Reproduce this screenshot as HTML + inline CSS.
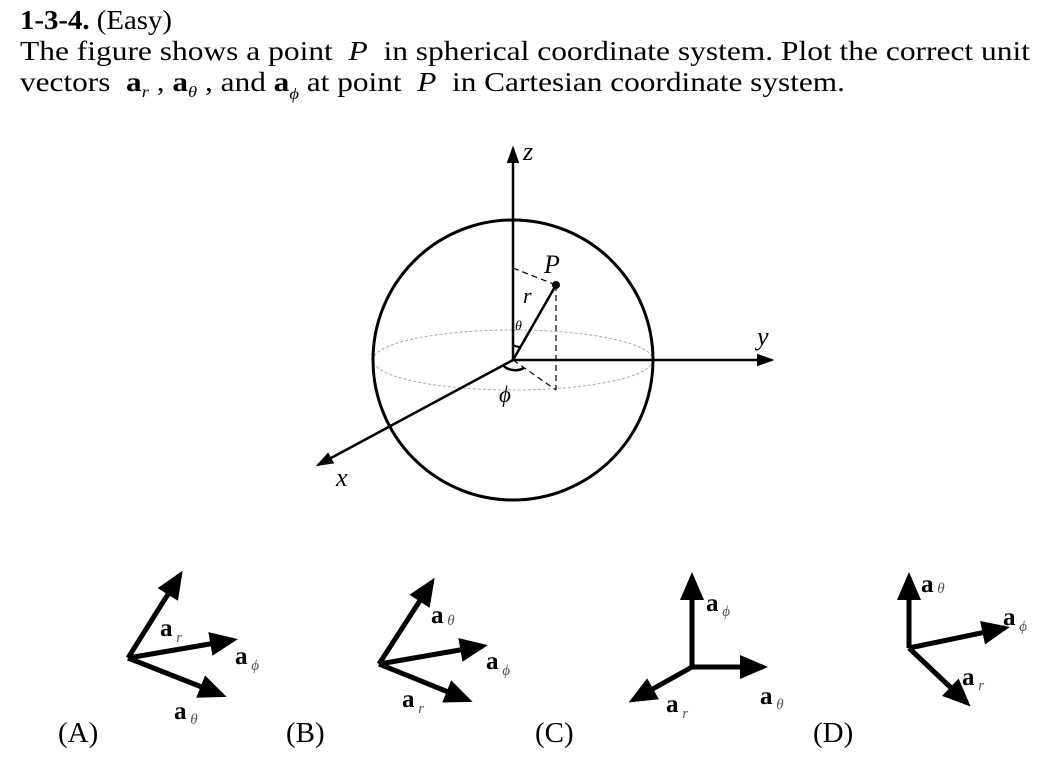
<!DOCTYPE html>
<html><head><meta charset="utf-8"><style>
body{margin:0;background:#fff;width:1060px;height:766px;overflow:hidden}
svg{position:absolute;left:0;top:0}
text{font-family:"Liberation Serif",serif;fill:#000}
</style></head><body>
<svg width="1060" height="766" viewBox="0 0 1060 766">
<defs>
<marker id="m" markerWidth="8" markerHeight="6" refX="6" refY="2.5" orient="auto" markerUnits="strokeWidth"><path d="M0,0L7,2.5L0,5z"/></marker>
<marker id="b" markerWidth="7" markerHeight="6" refX="4.6" refY="2.4" orient="auto" markerUnits="strokeWidth"><path d="M0,0L5.6,2.4L0,4.8z"/></marker>
</defs>
<text x="20" y="29" font-size="27" textLength="152" lengthAdjust="spacingAndGlyphs"><tspan font-weight="bold">1-3-4.</tspan> (Easy)</text>
<text x="20" y="60" font-size="27" textLength="1010" lengthAdjust="spacingAndGlyphs">The figure shows a point <tspan font-style="italic">&#160;P&#160;</tspan> in spherical coordinate system. Plot the correct unit</text>
<text x="20" y="91" font-size="27" textLength="825" lengthAdjust="spacingAndGlyphs">vectors <tspan font-weight="bold">&#160;a</tspan><tspan font-style="italic" font-size="16" dy="6">r</tspan><tspan dy="-6"> ,  </tspan><tspan font-weight="bold">a</tspan><tspan font-style="italic" font-size="16" dy="6">θ</tspan><tspan dy="-6"> , and  </tspan><tspan font-weight="bold">a</tspan><tspan font-style="italic" font-size="16" dy="8">ϕ</tspan><tspan dy="-8"> at point </tspan><tspan font-style="italic">&#160;P&#160;</tspan> in Cartesian coordinate system.</text>

<ellipse cx="513" cy="360" rx="140" ry="30" fill="none" stroke="#aaa" stroke-width="1" stroke-dasharray="3,2"/>
<circle cx="513" cy="360" r="140" fill="none" stroke="#000" stroke-width="3"/>
<line x1="513" y1="360" x2="513" y2="148" stroke="#000" stroke-width="2.5" marker-end="url(#m)"/>
<line x1="513" y1="360" x2="772" y2="360" stroke="#000" stroke-width="2.5" marker-end="url(#m)"/>
<line x1="513" y1="360" x2="318" y2="465" stroke="#000" stroke-width="2.5" marker-end="url(#m)"/>
<line x1="513" y1="360" x2="556" y2="285" stroke="#000" stroke-width="2.5"/>
<circle cx="556" cy="285" r="4"/>
<g stroke="#000" stroke-width="1.2" stroke-dasharray="6,4" fill="none">
<line x1="513" y1="268" x2="556" y2="285"/>
<line x1="556" y1="285" x2="556" y2="390"/>
<line x1="513" y1="360" x2="556" y2="390"/>
</g>
<path d="M513,345 A15,15 0 0 0 520,347" stroke="#000" stroke-width="2" fill="none"/>
<path d="M503,365 A14,10 0 0 0 524,368" stroke="#000" stroke-width="2.5" fill="none"/>
<g font-style="italic">
<text x="523" y="160" font-size="26">z</text>
<text x="757" y="345" font-size="26">y</text>
<text x="336" y="486" font-size="26">x</text>
<text x="544" y="273" font-size="26">P</text>
<text x="523" y="303" font-size="22">r</text>
<text x="515" y="330" font-size="14">θ</text>
<text x="499" y="402" font-size="23">ϕ</text>
</g>

<g stroke="#000" stroke-width="5" fill="none">
<line x1="128" y1="658" x2="180" y2="575" marker-end="url(#b)"/>
<line x1="128" y1="658" x2="233" y2="640" marker-end="url(#b)"/>
<line x1="128" y1="658" x2="222" y2="695" marker-end="url(#b)"/>
<line x1="379" y1="664" x2="432" y2="582" marker-end="url(#b)"/>
<line x1="379" y1="664" x2="483" y2="646" marker-end="url(#b)"/>
<line x1="379" y1="664" x2="468" y2="700" marker-end="url(#b)"/>
<line x1="692" y1="667" x2="692" y2="577" marker-end="url(#b)"/>
<line x1="692" y1="667" x2="763" y2="667" marker-end="url(#b)"/>
<line x1="692" y1="667" x2="633" y2="700" marker-end="url(#b)"/>
<line x1="909" y1="648" x2="909" y2="577" marker-end="url(#b)"/>
<line x1="909" y1="648" x2="1005" y2="628" marker-end="url(#b)"/>
<line x1="909" y1="648" x2="967" y2="703" marker-end="url(#b)"/>
</g>
<g font-size="25">
<text x="160" y="636" font-weight="bold">a<tspan font-weight="normal" font-style="italic" font-size="15" dy="6" fill="#555"> r</tspan></text>
<text x="235" y="664" font-weight="bold">a<tspan font-weight="normal" font-style="italic" font-size="15" dy="6" fill="#555"> ϕ</tspan></text>
<text x="174" y="719" font-weight="bold">a<tspan font-weight="normal" font-style="italic" font-size="15" dy="5" fill="#555"> θ</tspan></text>
<text x="431" y="623" font-weight="bold">a<tspan font-weight="normal" font-style="italic" font-size="15" dy="2" fill="#555"> θ</tspan></text>
<text x="486" y="669" font-weight="bold">a<tspan font-weight="normal" font-style="italic" font-size="15" dy="6" fill="#555"> ϕ</tspan></text>
<text x="402" y="707" font-weight="bold">a<tspan font-weight="normal" font-style="italic" font-size="15" dy="6" fill="#555"> r</tspan></text>
<text x="706" y="611" font-weight="bold">a<tspan font-weight="normal" font-style="italic" font-size="15" dy="5" fill="#555"> ϕ</tspan></text>
<text x="760" y="704" font-weight="bold">a<tspan font-weight="normal" font-style="italic" font-size="15" dy="5" fill="#555"> θ</tspan></text>
<text x="666" y="712" font-weight="bold">a<tspan font-weight="normal" font-style="italic" font-size="15" dy="6" fill="#555"> r</tspan></text>
<text x="921" y="592" font-weight="bold">a<tspan font-weight="normal" font-style="italic" font-size="15" dy="1" fill="#555"> θ</tspan></text>
<text x="1003" y="625" font-weight="bold">a<tspan font-weight="normal" font-style="italic" font-size="15" dy="6" fill="#555"> ϕ</tspan></text>
<text x="962" y="685" font-weight="bold">a<tspan font-weight="normal" font-style="italic" font-size="15" dy="5" fill="#555"> r</tspan></text>
</g>
<g font-size="29">
<text x="58" y="742">(A)</text>
<text x="286" y="742">(B)</text>
<text x="535" y="742">(C)</text>
<text x="813" y="742">(D)</text>
</g>
</svg>
</body></html>
